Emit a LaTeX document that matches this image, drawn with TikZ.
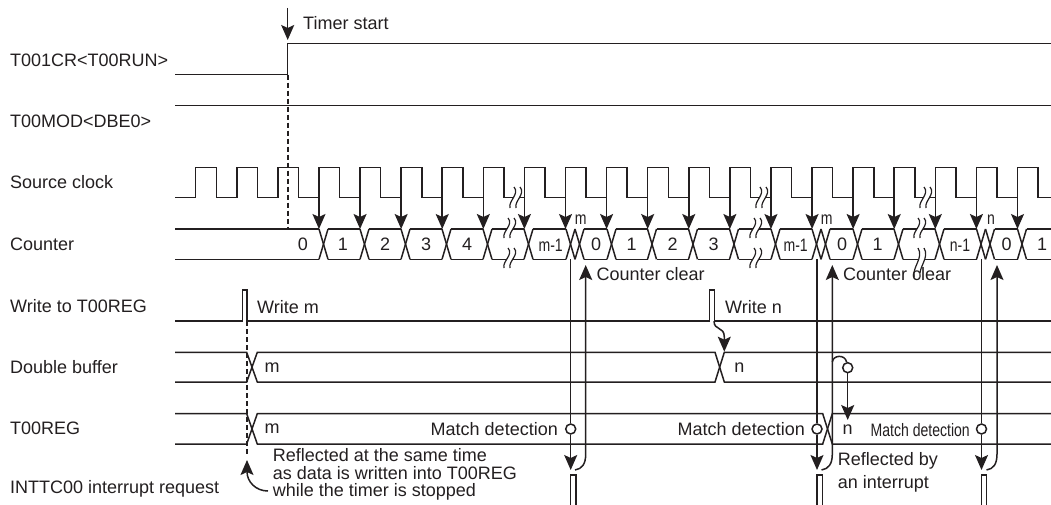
\documentclass[tikz,border=0pt]{standalone}
\usepackage{fontspec}
\setmainfont{Liberation Sans}
\newfontfamily\condfont[FakeStretch=0.78]{Liberation Sans}
\usetikzlibrary{arrows.meta,positioning}
\definecolor{tcInk}{HTML}{231F20}
\tikzset{
    wave/.style={draw=tcInk,line width=1.5pt,line join=miter},
    arrow/.style={
        -{Stealth[length=15pt,width=13pt,inset=3pt]},line width=1.5pt,draw=tcInk
    },
    guide/.style={draw=tcInk,line width=1.6pt,dash pattern=on 5pt off 3pt},
    sig/.style={anchor=west,inner sep=0pt,font=\fontsize{18}{20}\selectfont,text=tcInk},
    val/.style={inner sep=0pt,font=\fontsize{18}{20}\selectfont,text=tcInk},
    narrow/.style={inner sep=0pt,font=\condfont\fontsize{18}{20}\selectfont,text=tcInk},
    hole/.style={circle,draw=tcInk,line width=1.5pt,fill=white,minimum size=10pt,inner sep=0pt}
}
% x, top y, bottom y of a cut in a wave
\newcommand{\wavecut}[3]{
    \fill[white] (#1+7,#2) .. controls (#1+13,#2/3*2+#3/3) and (#1+1,#2/3+#3/3*2) .. (#1+3,#3)
        -- (#1-3,#3) .. controls (#1-5,#2/3+#3/3*2) and (#1+7,#2/3*2+#3/3) .. (#1+1,#2) -- cycle;
    \draw[tcInk,line width=1.2pt] (#1+7,#2) .. controls (#1+13,#2/3*2+#3/3) and (#1+1,#2/3+#3/3*2) .. (#1+3,#3);
    \draw[tcInk,line width=1.2pt] (#1+1,#2) .. controls (#1+7,#2/3*2+#3/3) and (#1-5,#2/3+#3/3*2) .. (#1-3,#3);
}

\begin{document}
\begin{tikzpicture}[x=1pt,y=-1pt]
\useasboundingbox (0,0) rectangle (1051,505);

\node[sig] (lrun) at (10,60) {T001CR<T00RUN>};
\node[sig] (lmod) at (10,121) {T00MOD<DBE0>};
\node[sig] (lclk) at (10,182) {Source clock};
\node[sig] (lcnt) at (10,244) {Counter};
\node[sig] (lwr) at (10,306) {Write to T00REG};
\node[sig] (ldbl) at (10,367) {Double buffer};
\node[sig] (lreg) at (10,428) {T00REG};
\node[sig] (lint) at (10,489) {INTTC00 interrupt request};

% timer start
\coordinate (startup) at (287.7,8);
\coordinate (starttip) at (287.7,40);
\coordinate (runrise) at (287.7,74.7);
\coordinate (clktop) at (287.7,229);
\draw[arrow] (startup)--(starttip);
\node[sig] (tstart) at (303,23) {Timer start};
\draw[wave] (175,74.7)--(runrise)--(287.7,43.3)--(1051,43.3);
\draw[wave] (175,105.3)--(1051,105.3);
\draw[guide] (runrise)--(clktop);

% source clock
\draw[wave] (175,197.7)--(195.7,197.7);
\foreach \k in {0,...,20}{
    \pgfmathsetmacro{\xr}{195.7+41.09*\k}
    \draw[wave] (\xr,197.7)--(\xr,167.3)--(\xr+20.6,167.3)--(\xr+20.6,197.7)--(\xr+41.09,197.7);
}
\foreach \k in {3,...,20}{
    \pgfmathsetmacro{\xr}{195.7+41.09*\k}
    \coordinate (clk\k) at (\xr,197.7);
    \coordinate (cnt\k) at (\xr,229);
    \draw[arrow] (clk\k)--(cnt\k);
}

% counter
\draw[wave] (175,229)--(319,229);
\draw[wave] (175,259.3)--(319,259.3);
\foreach \xa/\xb in {319/360,360/401,401/442,442/483,483/524,524/566,566/575,575/607,607/647.5,647.5/688.5,688.5/729.5,729.5/771,771/812,812/821,821/853,853/894,894/935,935/976.5,976.5/985.5,985.5/1017.5,1017.5/1060}{
    \draw[wave] (\xa,229)--(\xa+9,259.3);
    \draw[wave] (\xa,259.3)--(\xa+9,229);
    \draw[wave] (\xa+9,229)--(\xb,229);
    \draw[wave] (\xa+9,259.3)--(\xb,259.3);
}
\node[val] (c0) at (303,244.5) {0};
\node[val] (c1) at (343,244.5) {1};
\node[val] (c2) at (385,244.5) {2};
\node[val] (c3) at (426,244.5) {3};
\node[val] (c4) at (467,244.5) {4};
\node[narrow] (cm) at (550.7,245) {m-1};
\node[narrow] (tm) at (580.7,220) {m};
\node[val] (e0) at (596,244.5) {0};
\node[val] (e1) at (631.7,244.5) {1};
\node[val] (e2) at (672.5,244.5) {2};
\node[val] (e3) at (713.7,244.5) {3};
\node[narrow] (em) at (795.7,245) {m-1};
\node[narrow] (um) at (826.7,220) {m};
\node[val] (f0) at (842,244.5) {0};
\node[val] (f1) at (877.7,244.5) {1};
\node[narrow] (fn) at (960,245) {n-1};
\node[narrow] (un) at (991,220) {n};
\node[val] (g0) at (1006.7,244.5) {0};
\node[val] (g1) at (1042,244.5) {1};

\wavecut{513}{187}{208}
\wavecut{759}{187}{208}
\wavecut{923}{187}{208}
\wavecut{507}{218}{238}
\wavecut{753}{218}{238}
\wavecut{917}{218}{238}
\wavecut{507}{248}{268}
\wavecut{753}{248}{268}
\wavecut{917}{248}{277}

\node[sig] (clra) at (596.5,274) {Counter clear};
\node[sig] (clrb) at (843,274) {Counter clear};

% write to T00REG
\draw[wave] (175,321)--(242.3,321)--(242.3,290)--(247,290)--(247,321)--(709.3,321)--(709.3,290)--(714.3,290)--(714.3,321)--(1051,321);
\node[sig] (wm) at (257,307) {Write m};
\node[sig] (wn) at (725,307) {Write n};

% double buffer
\draw[wave] (175,352.3)--(246.7,352.3)--(257.3,382)--(715,382)--(724.3,352.3)--(1051,352.3);
\draw[wave] (175,382)--(246.7,382)--(257.3,352.3)--(715,352.3)--(724.3,382)--(1051,382);
\node[val] (bm) at (272,368) {m};
\node[val] (bn) at (739.3,368) {n};

% T00REG
\draw[wave] (175,413.7)--(246.7,413.7)--(257.3,444)--(822.7,444)--(832.3,413.7)--(1051,413.7);
\draw[wave] (175,444)--(246.7,444)--(257.3,413.7)--(822.7,413.7)--(832.3,444)--(1051,444);
\node[val] (rm) at (272,429) {m};
\node[val] (rn) at (847.7,430) {n};
\node[sig,anchor=east] (mda) at (558,429) {Match detection};
\node[sig,anchor=east] (mdb) at (805,429) {Match detection};
\node[narrow,anchor=east] (mdc) at (970,430) {Match detection};

% interrupt request
\draw[wave] (570.7,505)--(570.7,475)--(576,475)--(576,505);
\draw[wave] (817,505)--(817,475)--(822.3,475)--(822.3,505);
\draw[wave] (981.3,505)--(981.3,475)--(986.7,475)--(986.7,505);

% match and clear
\coordinate (clea) at (570.7,259.3);
\coordinate (tipa) at (570.7,470);
\coordinate (upa) at (585.7,265);
\coordinate (fra) at (575,470);
\coordinate (cleb) at (817,259.3);
\coordinate (tipb) at (817,470);
\coordinate (upb) at (832.3,265);
\coordinate (frb) at (821.5,470);
\coordinate (clec) at (981.5,259.3);
\coordinate (tipc) at (981.5,470);
\coordinate (upc) at (997,265);
\coordinate (frc) at (986.5,470);
\node[hole] (hita) at (570.7,429) {};
\node[hole] (hitb) at (817,429) {};
\node[hole] (hitc) at (981.5,429) {};
\draw[wave] (clea)--(hita);
\draw[wave] (cleb)--(hitb);
\draw[wave] (clec)--(hitc);
\draw[arrow] (hita)--(tipa);
\draw[arrow] (hitb)--(tipb);
\draw[arrow] (hitc)--(tipc);
\draw[arrow] (fra) .. controls (582,469) and (585.7,464) .. (585.7,454) -- (upa);
\draw[arrow] (frb) .. controls (828.5,469) and (832.3,464) .. (832.3,454) -- (upb);
\draw[arrow] (frc) .. controls (993.5,469) and (997,464) .. (997,454) -- (upc);

% reflected
\coordinate (wrbase) at (246.7,321);
\coordinate (wrend) at (246.7,455);
\coordinate (reftail) at (268,491);
\coordinate (reftip) at (247,460);
\draw[guide] (wrbase)--(wrend);
\draw[arrow] (reftail) .. controls (256,491) and (247,482) .. (reftip);
\node[sig] (refa) at (272.7,455.5) {Reflected at the same time};
\node[sig] (refb) at (272.7,473.5) {as data is written into T00REG};
\node[sig] (refc) at (272.7,491.5) {while the timer is stopped};
\node[sig] (refd) at (837.7,461) {Reflected by};
\node[sig] (refe) at (837.7,483.5) {an interrupt};

% write n to buffer, buffer to T00REG
\coordinate (wnfoot) at (714,321);
\coordinate (wntip) at (724.3,351.7);
\draw[arrow] (wnfoot) .. controls (714,331) and (724.3,326) .. (724.3,337) -- (wntip);
\coordinate (hookup) at (832.3,362);
\coordinate (regtip) at (847.7,420);
\node[hole] (hitd) at (847.7,367.7) {};
\draw[wave] (hookup) .. controls (833,355) and (845,354) .. (hitd);
\draw[arrow] (hitd)--(regtip);

\end{tikzpicture}
\end{document}
